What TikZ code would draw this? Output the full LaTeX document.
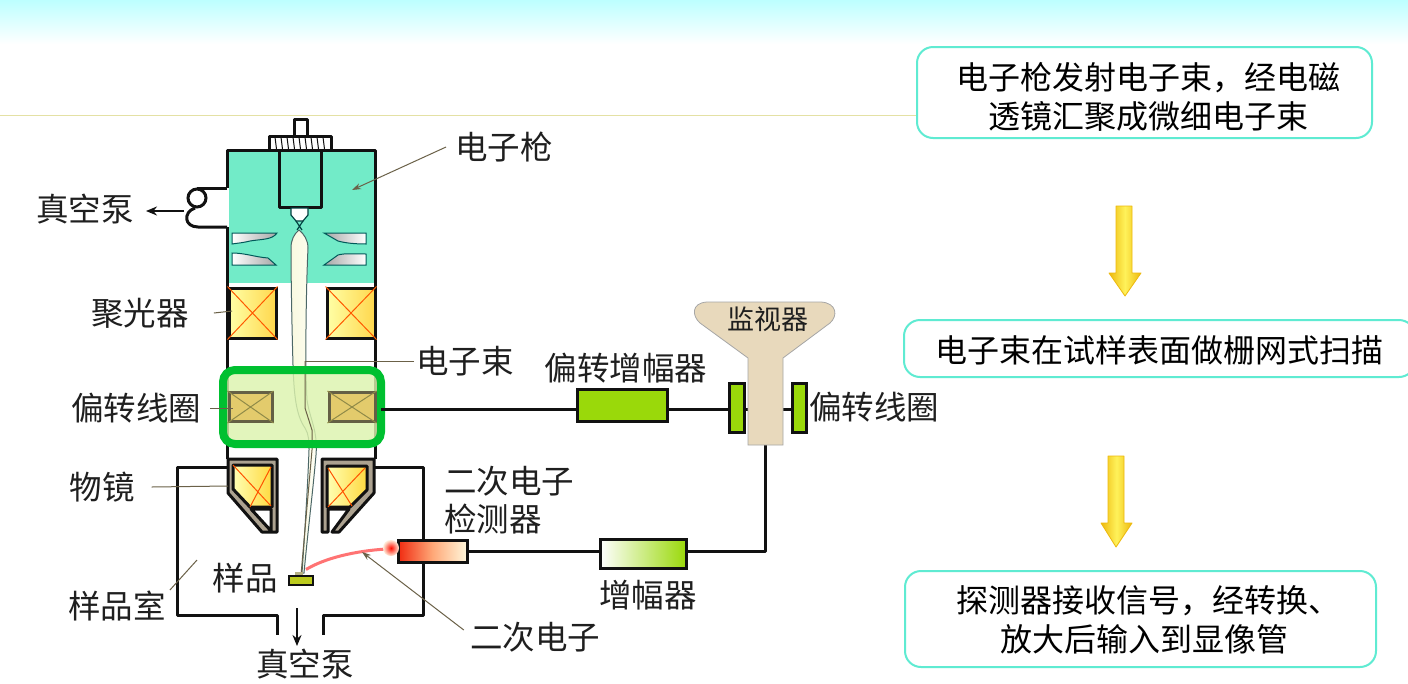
\documentclass[tikz,border=0pt]{standalone}
\usepackage{fontspec}
\setmainfont{Noto Sans CJK SC}
\usetikzlibrary{arrows.meta,calc}
\definecolor{wall}{HTML}{111111}
\definecolor{tealfill}{HTML}{72EBC8}
\definecolor{leader}{HTML}{6B6148}
\definecolor{flowline}{HTML}{5FEBD2}
\definecolor{greenbox}{HTML}{00C030}
\definecolor{limefill}{HTML}{9AD90A}
\definecolor{tanfill}{HTML}{E8D9BC}
\definecolor{arrowedge}{HTML}{EDB90E}
\definecolor{arrowmid}{HTML}{FFF25A}
\definecolor{hilite}{HTML}{DCF3AE}
\definecolor{defcoil}{HTML}{E3CB6C}
\definecolor{samplefill}{HTML}{BCCB1E}
\definecolor{detred}{HTML}{F02A10}
\definecolor{detmid}{HTML}{FFA878}
\definecolor{detcream}{HTML}{FFF8DC}
\tikzset{
  x=1pt,y=-1pt,
  wallline/.style={draw=wall,line width=3pt,line join=round},
  thinleader/.style={draw=leader,line width=1pt},
  lbl/.style={inner sep=0pt,font=\fontsize{32.5}{38}\selectfont,text=black!88},
  flowbox/.style={draw=flowline,line width=2pt,rounded corners=16pt,fill=white,inner sep=0pt},
  flowtext/.style={inner sep=0pt,align=center,font=\fontsize{32}{39}\selectfont,text=black},
  ampbox/.style={draw=wall,line width=3pt,inner sep=0pt},
  coilX/.style={draw=#1,line width=1pt},
  lens/.style={draw=teal!70!black,line width=1pt,left color=white,right color=white},
  yarrow/.style={draw=arrowedge,line width=.8pt,left color=arrowedge,right color=arrowedge,middle color=arrowmid,line join=round},
}
\begin{document}
\begin{tikzpicture}
\useasboundingbox (0,0) rectangle (1408,683);
\fill[white] (0,0) rectangle (1408,683);
\fill[top color=cyan!26!white,bottom color=white] (0,0) rectangle (1408,44);
\draw[draw=black!30!yellow!40!white,line width=.8pt] (0,115) -- (955,115);

% --- flow boxes
\node[flowbox,minimum width=455pt,minimum height=91pt] (boxA) at (1144.5,92.5) {};
\node[flowtext] (textA) at (1148,96.5) {电子枪发射电子束，经电磁\\透镜汇聚成微细电子束};
\node[flowbox,minimum width=511pt,minimum height=57pt,anchor=west] (boxB) at (903,348.5) {};
\node[flowtext] (textB) at (1159,350) {电子束在试样表面做栅网式扫描};
\node[flowbox,minimum width=471pt,minimum height=96pt] (boxC) at (1140.5,619) {};
\node[flowtext] (textC) at (1148,619.5) {探测器接收信号，经转换、\\\hspace*{-8pt}放大后输入到显像管};
\draw[yarrow] (1116,206) -- (1132,206) -- (1132,273) -- (1141,273) -- (1125,296) -- (1109,273) -- (1116,273) -- cycle;
\draw[yarrow] (1108,456) -- (1124,456) -- (1124,523) -- (1132,523) -- (1116,547) -- (1101,523) -- (1108,523) -- cycle;

% --- gun chamber
\fill[tealfill] (229,151) rectangle (374,283);
% gun cap
\draw[wallline,fill=white] (294,136) -- (294,119) -- (307,119) -- (307,136);
\draw[wallline,fill=white] (269,150) -- (269,136) -- (331,136) -- (331,150);
\foreach \tx in {275,281,287,293,299,305,311,317,323}
  \draw[wall,line width=1pt] (\tx,137) -- (\tx+1.5,149);
\draw[wallline,fill=tealfill] (279,150) rectangle (321,207);
\draw[draw=teal!50!black,line width=1.2pt,fill=white] (291,208) -- (308,208) -- (308,215) -- (303,221) -- (296,221) -- (291,215) -- cycle;
\draw[teal!50!black,line width=1.2pt] (296,221) -- (302,230) (303,221) -- (297,230);

% lenses
\draw[lens,left color=white,right color=black!35] (232,233) -- (277,233) .. controls (272,240) and (262,239) .. (250,241) .. controls (242,243) and (238,243) .. (232,244) -- cycle;
\draw[lens,left color=white,right color=black!35] (232,253) .. controls (245,253) and (255,257) .. (268,258) -- (276,265) -- (232,265) -- cycle;
\draw[lens,left color=black!35,right color=white] (324,233) -- (366,233) -- (366,244) .. controls (355,244) and (345,243) .. (338,241) -- cycle;
\draw[lens,left color=black!35,right color=white] (324,265) -- (366,265) -- (366,254) .. controls (355,254) and (345,253) .. (338,255) -- cycle;

% column walls
\draw[wallline] (227,188) -- (227,150) -- (375,150) -- (375,459);
\draw[wallline] (227,227) -- (227,459);
% pipe
\node[circle,draw=wall,line width=3pt,minimum size=18pt,inner sep=0pt] (pipeloop) at (197,198) {};
\draw[wallline] (227,188) -- (197,188);
\draw[wallline] (195,208) .. controls (183,212) and (184,227) .. (198,227) -- (227,227);

% chamber
\draw[wallline] (227,467) -- (177,467) -- (177,615) -- (277,615) -- (277,635);
\draw[wallline] (375,467) -- (423,467) -- (423,615) -- (323,615) -- (323,635);

% beam
\draw[draw=teal!30!black!70,line width=1pt,left color=black!20!yellow!12!white,right color=yellow!4!white]
  (299,230) .. controls (294,234) and (291,240) .. (291,248) .. controls (291,280) and (292,330) .. (293,365)
  .. controls (294,395) and (296,415) .. (305,428) .. controls (309,434) and (309,442) .. (309,450)
  .. controls (308,480) and (305,530) .. (302,573) -- (304,573)
  .. controls (308,530) and (313,490) .. (316,455) .. controls (318,430) and (310,420) .. (307,400)
  .. controls (305,370) and (306,290) .. (308,248) .. controls (308,240) and (304,234) .. (299,230) -- cycle;

% highlight fill
\fill[hilite,fill opacity=.82,rounded corners=12pt] (223,370) rectangle (381,444);

% condenser coils
\foreach \nm/\xa/\xb in {condL/229/276,condR/327/375}{
  \node[draw=wall,line width=3pt,left color=yellow!35!white,right color=orange!45!yellow!70!white,minimum width={\xb-\xa},minimum height=50pt,inner sep=0pt] (\nm) at ({(\xa+\xb)/2},313) {};
  \draw[coilX=orange!70!red] (\nm.north west) -- (\nm.south east) (\nm.north east) -- (\nm.south west);
}

% deflection coils
\foreach \nm/\xa/\xb in {defL/229/272,defR/329/375}{
  \node[draw=black!70!yellow,line width=3pt,fill=defcoil,minimum width={\xb-\xa},minimum height=29pt,inner sep=0pt] (\nm) at ({(\xa+\xb)/2},407) {};
  \draw[coilX=black!50!yellow] (\nm.north west) -- (\nm.south east) (\nm.north east) -- (\nm.south west);
}

% electron beam label line
\coordinate (beamHit) at (305,361);
\coordinate (beamEnd) at (301,575);
\draw[leader,line width=1pt] (beamHit) -- (305,408) -- (312,430) -- (312,450) -- (beamEnd);

% objective lenses
\draw[wallline,fill=tanfill!70!black!90] (228,459) -- (277,459) -- (277,532) -- (271,532) -- (271,509) -- (251,509) -- (272,532) -- (262,532) -- (228,493) -- cycle;
\draw[wallline,left color=yellow!30!white,right color=orange!40!yellow!75!white] (233,465) -- (272,465) -- (272,507) -- (250,507) -- (233,489) -- cycle;
\draw[coilX=orange!65!red] (233,465) -- (271,506) (271,467) -- (250,507);
\draw[wallline,fill=tanfill!70!black!90] (374,459) -- (322,459) -- (322,532) -- (328,532) -- (328,509) -- (349,509) -- (332,532) -- (339,532) -- (374,493) -- cycle;
\draw[wallline,left color=yellow!30!white,right color=orange!40!yellow!75!white] (327,466) -- (367,466) -- (367,490) -- (350,507) -- (327,507) -- cycle;
\draw[coilX=orange!65!red] (328,507) -- (365,468) (328,468) -- (352,506);

% highlight frame
\draw[greenbox,line width=8pt,rounded corners=12pt] (223,370) rectangle (381,444);

% sample
\fill[black!55!yellow!60!white] (295,572) rectangle (303,576);
\node[draw=wall,line width=2pt,fill=samplefill,minimum width=24pt,minimum height=9pt,inner sep=0pt] (sample) at (301,580) {};

% secondary electrons
\coordinate (seHit) at (362,552);
\draw[red!55!white,line width=3pt] (sample.north east) ++(-8,-5) .. controls (325,558) and (355,551) .. (386,549);

% detector
\node[draw=wall,line width=3pt,left color=detred,right color=detcream,middle color=detmid,minimum width=69pt,minimum height=22pt,inner sep=0pt] (detector) at (432.5,551) {};
\shade[inner color=red!90!orange,outer color=orange!15!white] (391,548) circle (8pt);

% amplifiers
\node[ampbox,fill=limefill,minimum width=90pt,minimum height=32pt] (defAmp) at (622,405) {};
\node[ampbox,left color=white,right color=limefill,minimum width=86pt,minimum height=29pt] (sigAmp) at (643,553.5) {};
% monitor
\coordinate (monBottom) at (765.5,445);
\coordinate (corner) at (765.5,551);
\draw[wallline] (381,409) -- (defAmp.west |- 0,409);
\draw[wallline] (defAmp.east |- 0,409) -- (729,409);
\draw[wallline] (744,409) -- (792,409);
\draw[wallline] (detector.east) -- (sigAmp.west |- detector.east);
\draw[wallline] (sigAmp.east |- 0,551) -- (corner) -- (monBottom);
\draw[draw=black!35,line width=.8pt,fill=tanfill] (748,445) -- (748,358) -- (700,323) .. controls (692,316) and (691,303) .. (707,302) -- (821,302) .. controls (837,303) and (838,316) .. (830,323) -- (783,358) -- (783,445) -- cycle;
\node[ampbox,fill=limefill,minimum width=15pt,minimum height=49pt] (monCoilL) at (736.5,407.5) {};
\node[ampbox,fill=limefill,minimum width=14pt,minimum height=49pt] (monCoilR) at (799,407.5) {};

% labels
\node[lbl] (lGun) at (504,147) {电子枪};
\node[lbl] (lPumpA) at (85,209) {真空泵};
\node[lbl] (lCond) at (140,313) {聚光器};
\node[lbl] (lBeam) at (465,361) {电子束};
\node[lbl] (lDefAmp) at (626,368) {偏转增幅器};
\node[lbl,font=\fontsize{27}{32}\selectfont] (lMon) at (768,319) {监视器};
\node[lbl] (lDefL) at (136,408) {偏转线圈};
\node[lbl] (lDefR) at (874,407) {偏转线圈};
\node[lbl] (lObj) at (102,487) {物镜};
\node[lbl,align=left,anchor=west] (lDet) at (444,500.5) {二次电子\\检测器};
\node[lbl] (lSample) at (245,578) {样品};
\node[lbl] (lRoom) at (117,606) {样品室};
\node[lbl] (lSigAmp) at (648,595) {增幅器};
\node[lbl] (lSec) at (535,637) {二次电子};
\node[lbl] (lPumpB) at (305,664) {真空泵};

% leaders
\coordinate (gunTip) at (352,190);
\coordinate (condHit) at (232,311);
\coordinate (defHit) at (233,408);
\coordinate (objHit) at (228,486);
\coordinate (roomHit) at (197,560);
\coordinate (pumpA) at (184,211);
\coordinate (pumpATip) at (146,211);
\coordinate (pumpB) at (297,608);
\coordinate (pumpBTip) at (297,646);
\draw[thinleader,-{Stealth[length=9pt,width=6pt]}] ([xshift=-9pt]lGun.west) -- (gunTip);
\draw[thinleader] ([xshift=25pt]lCond.east) -- (condHit);
\draw[thinleader] ([xshift=-2pt]lBeam.west) -- (beamHit);
\draw[thinleader] ([xshift=9pt]lDefL.east) -- (defHit);
\draw[thinleader] ([xshift=17pt]lObj.east) -- (objHit);
\draw[thinleader] ([xshift=4pt,yshift=16pt]lRoom.east) -- (roomHit);
\draw[thinleader,-{Stealth[length=9pt,width=6pt]}] ([xshift=-6pt,yshift=7pt]lSec.west) -- (seHit);
\draw[draw=wall,line width=2.4pt,-{Stealth[length=11pt,width=9pt]}] (pumpA) -- (pumpATip);
\draw[draw=wall,line width=2.4pt,-{Stealth[length=11pt,width=9pt]}] (pumpB) -- (pumpBTip);
\end{tikzpicture}
\end{document}
